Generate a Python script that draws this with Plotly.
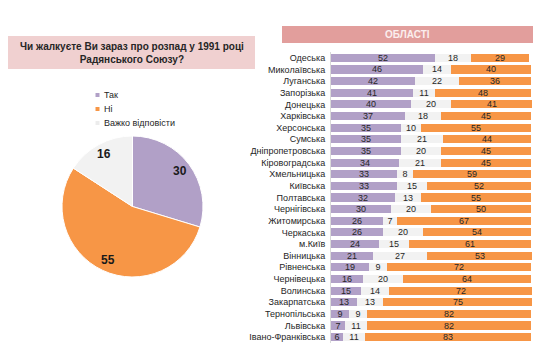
import math
import plotly.graph_objects as go

W, H = 550, 357

pie_labels = ["Так", "Ні", "Важко відповісти"]
pie_values = [30, 55, 16]

regions = ["Одеська", "Миколаївська", "Луганська", "Запорізька", "Донецька", "Харківська",
           "Херсонська", "Сумська", "Дніпропетровська", "Кіровоградська", "Хмельницька",
           "Київська", "Полтавська", "Чернігівська", "Житомирська", "Черкаська", "м.Київ",
           "Вінницька", "Рівненська", "Чернівецька", "Волинська", "Закарпатська",
           "Тернопільська", "Львівська", "Івано-Франківська"]
yes_vals = [52, 46, 42, 41, 40, 37, 35, 35, 35, 34, 33, 33, 32, 30, 26, 26, 24, 21, 19, 16, 15, 13, 9, 7, 6]
hard_vals = [18, 14, 22, 11, 20, 18, 10, 21, 20, 21, 8, 15, 13, 20, 7, 20, 15, 27, 9, 20, 14, 13, 9, 11, 11]
no_vals = [29, 40, 36, 48, 41, 45, 55, 44, 45, 45, 59, 52, 55, 50, 67, 54, 61, 53, 72, 64, 72, 75, 82, 82, 83]

C_YES = "#b1a0c7"
C_NO = "#f79646"
C_HARD = "#f2f2f2"
pie_colors = [C_YES, C_NO, C_HARD]
FONT = "Liberation Sans Narrow, Arial Narrow, Liberation Sans, Arial, sans-serif"

def px(x):
    return x / W

def py(y):
    return 1 - y / H

# pie geometry (pixels)
PCX, PCY, PR = 124.5, 198.5, 70.5

fig = go.Figure()

fig.add_trace(go.Pie(
    labels=pie_labels, values=pie_values, sort=False, direction="clockwise", rotation=0,
    marker=dict(colors=pie_colors, line=dict(color="white", width=1)),
    textinfo="none",
    domain=dict(x=[px(PCX - PR), px(PCX + PR)], y=[py(PCY + PR), py(PCY - PR)]),
    hoverinfo="label+value", showlegend=False,
))

for name, vals, col in [("Так", yes_vals, C_YES), ("Важко відповісти", hard_vals, C_HARD), ("Ні", no_vals, C_NO)]:
    fig.add_trace(go.Bar(
        y=regions, x=vals, orientation="h", name=name, marker=dict(color=col, line=dict(width=0)),
        text=vals, textposition="inside", insidetextanchor="middle", textangle=0,
        textfont=dict(family=FONT, size=9, color="#262626"), constraintext="none",
        showlegend=False, xaxis="x", yaxis="y",
    ))

annotations = [
    dict(text="<b>Чи жалкуєте Ви зараз про розпад у 1991 році<br>Радянського Союзу?</b>",
         xref="paper", yref="paper", x=px(124), y=py(44.5), xanchor="center", yanchor="middle",
         showarrow=False, font=dict(family=FONT, size=10, color="#262626"), align="center"),
    dict(text="<b>ОБЛАСТІ</b>", xref="paper", yref="paper", x=px(399), y=py(26.5),
         xanchor="center", yanchor="middle", showarrow=False,
         font=dict(family=FONT, size=10, color="#fbeeee")),
]
shapes = [
    dict(type="rect", xref="paper", yref="paper", x0=0, x1=px(247), y0=py(61), y1=py(28),
         fillcolor="#f0d0d0", line=dict(width=0), layer="below"),
    dict(type="rect", xref="paper", yref="paper", x0=px(274), x1=px(525), y0=py(35), y1=py(18),
         fillcolor="#e29e9c", line=dict(width=0), layer="below"),
]

# pie value labels placed along each slice's mid-angle
total = sum(pie_values)
cum = 0
for v in pie_values:
    mid = (cum + v / 2) / total * 2 * math.pi
    cum += v
    r = 0.84 * PR
    x = PCX + r * math.sin(mid)
    y = PCY - r * math.cos(mid)
    annotations.append(dict(text="<b>%d</b>" % v, xref="paper", yref="paper", x=px(x), y=py(y),
                            xanchor="center", yanchor="middle", showarrow=False,
                            font=dict(family=FONT, size=12, color="#1a1a1a")))

# legend for the pie
LEG_X, LEG_Y0, LEG_DY = 89.5, 87, 14
for i, (lab, col) in enumerate(zip(pie_labels, pie_colors)):
    yy = LEG_Y0 + i * LEG_DY
    shapes.append(dict(type="rect", xref="paper", yref="paper",
                       x0=px(LEG_X - 2), x1=px(LEG_X + 2), y0=py(yy + 2), y1=py(yy - 2),
                       fillcolor=col if col != C_HARD else "#ececec", line=dict(width=0)))
    annotations.append(dict(text=lab, xref="paper", yref="paper", x=px(LEG_X + 4), y=py(yy),
                            xanchor="left", yanchor="middle", showarrow=False,
                            font=dict(family=FONT, size=9, color="#262626")))

fig.update_layout(
    width=W, height=H, margin=dict(l=0, r=0, t=0, b=0),
    paper_bgcolor="white", plot_bgcolor="white",
    barmode="stack", bargap=0.3,
    font=dict(family=FONT, size=9, color="#262626"),
    xaxis=dict(domain=[px(323), px(524)], range=[0, 100.5], visible=False, fixedrange=True),
    yaxis=dict(domain=[py(335), py(44)], autorange="reversed", showgrid=False,
               showline=True, linecolor="#d9d9d9", linewidth=1, ticks="",
               tickfont=dict(family=FONT, size=9, color="#262626"), ticklabelstandoff=3,
               anchor="x"),
    showlegend=False,
    uniformtext=dict(minsize=7, mode="show"),
    shapes=shapes,
    annotations=annotations,
)

fig.write_html("out.html")
